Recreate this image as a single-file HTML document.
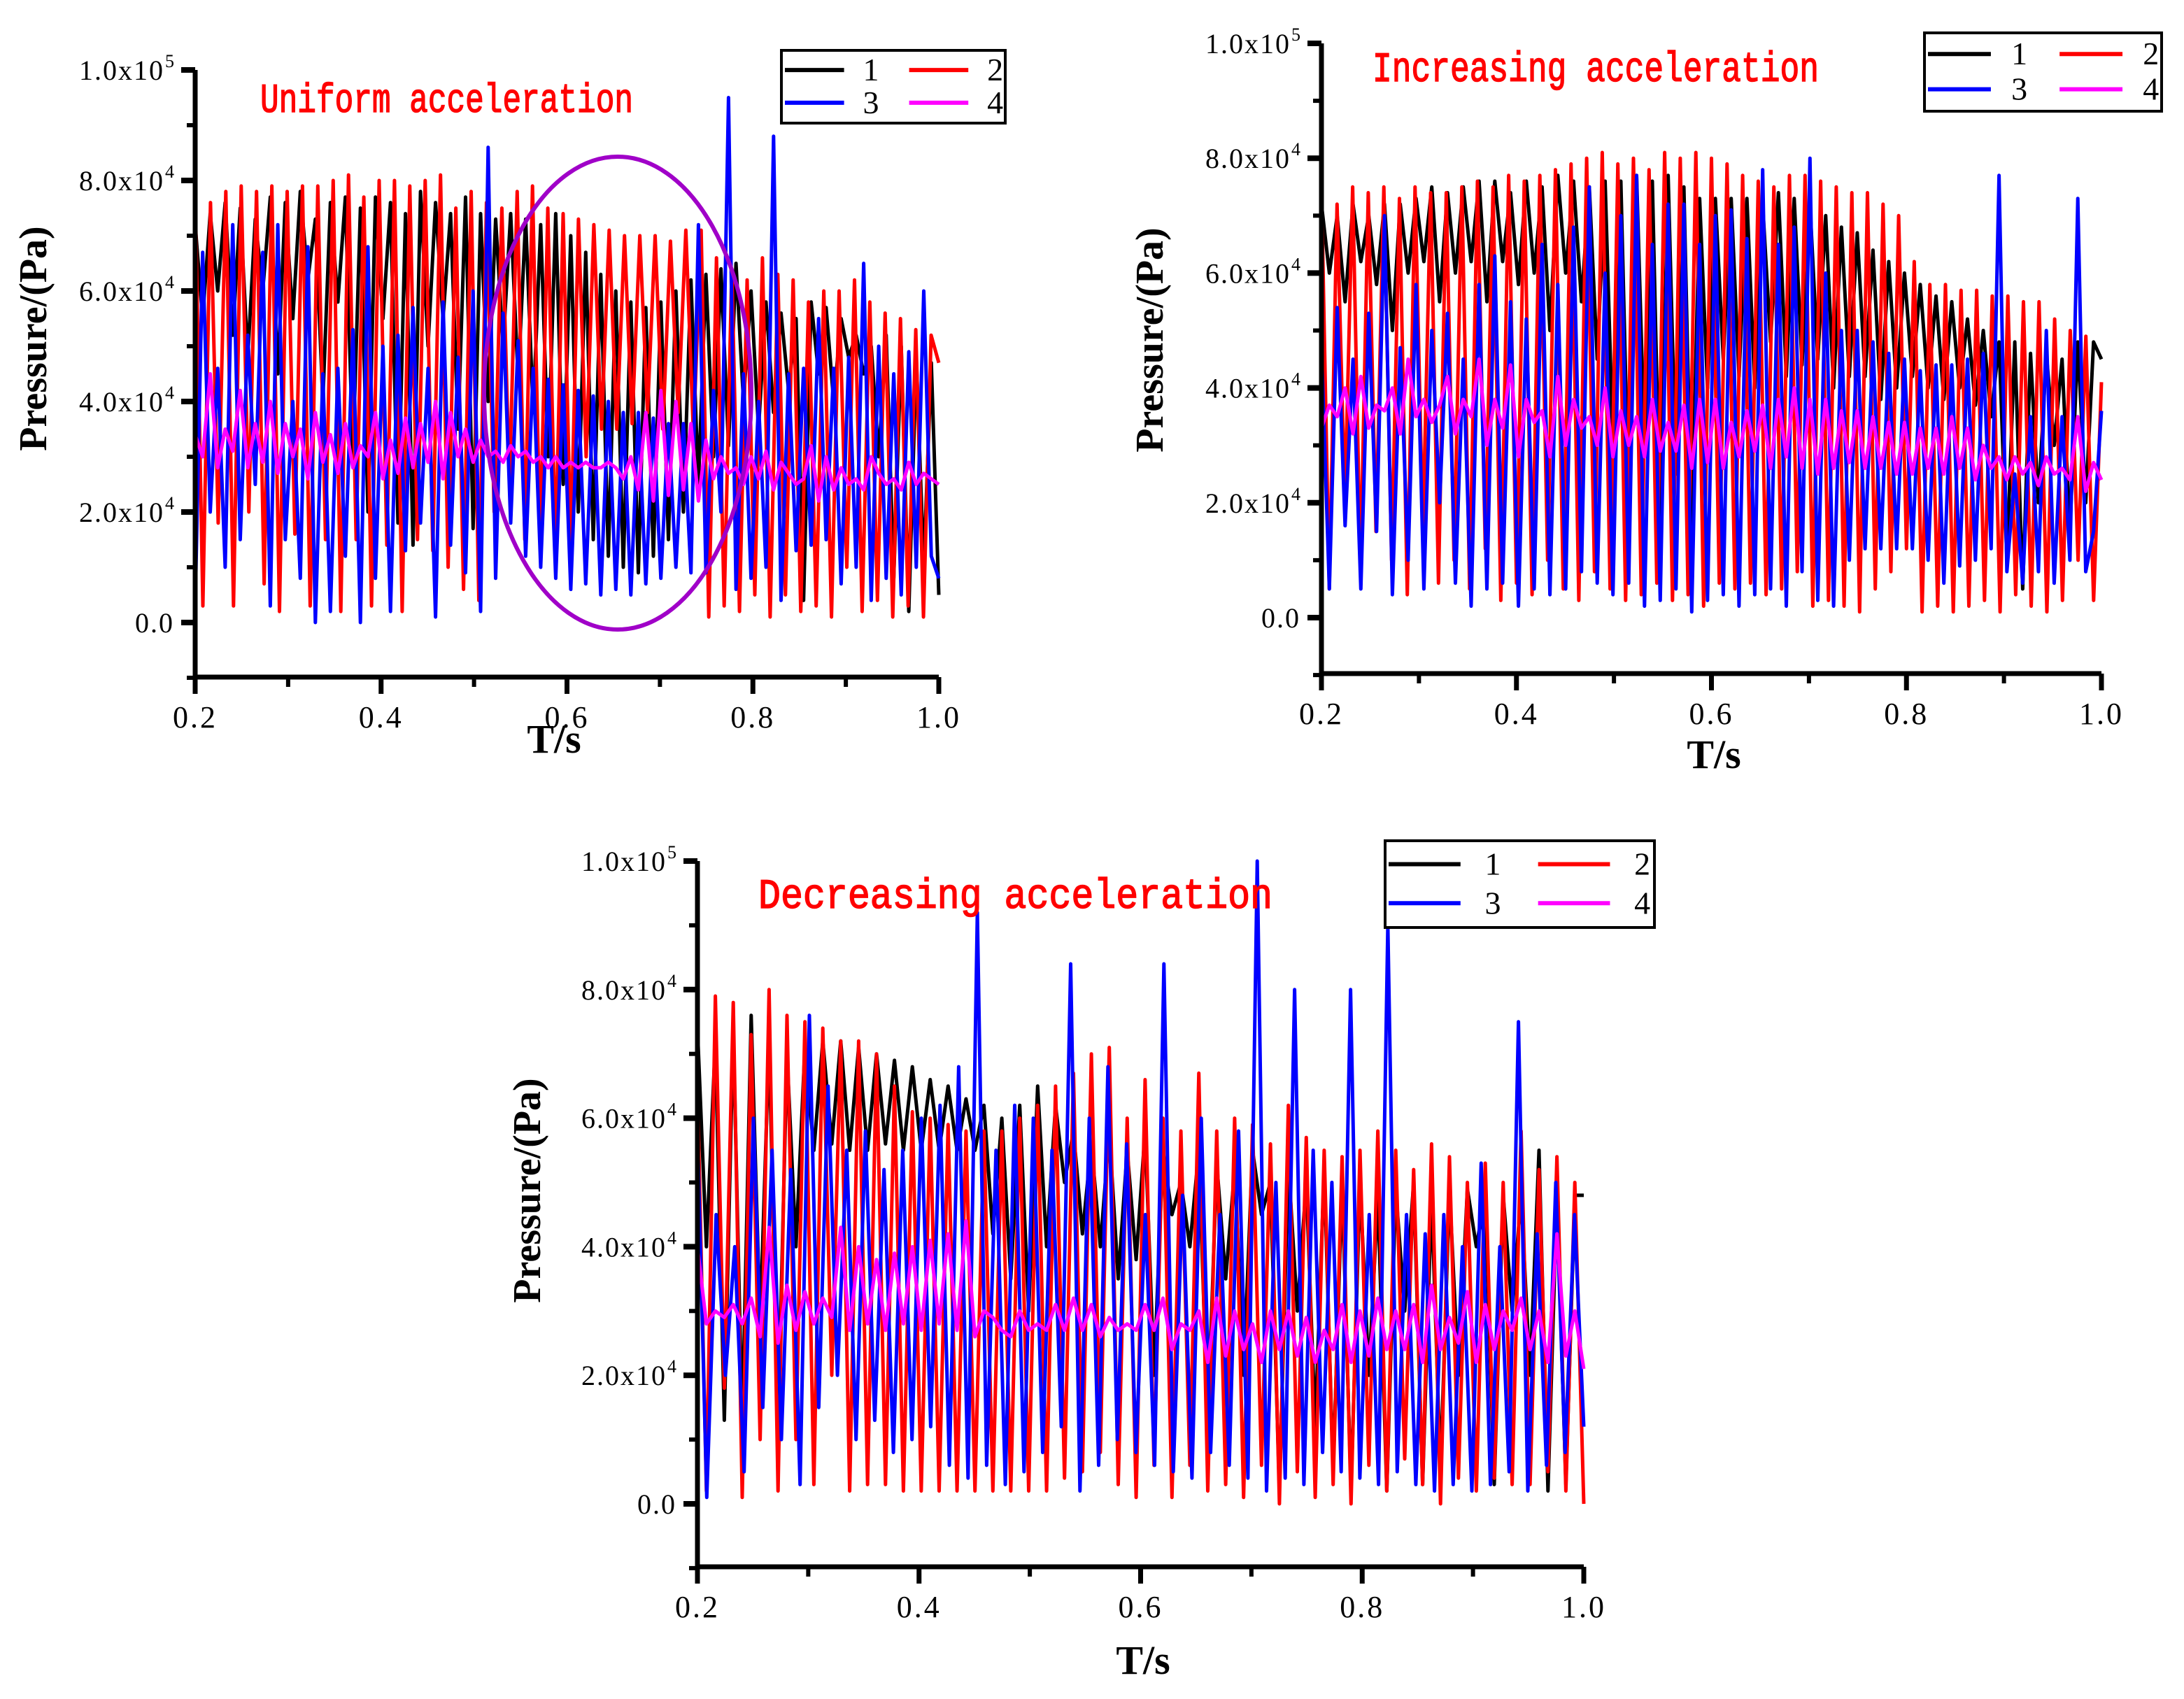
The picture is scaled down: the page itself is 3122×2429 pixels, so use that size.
<!DOCTYPE html>
<html><head><meta charset="utf-8"><style>
html,body{margin:0;padding:0;background:#fff;}
svg{display:block;}
</style></head><body>
<svg id="fig" xmlns="http://www.w3.org/2000/svg" width="3122" height="2429" viewBox="0 0 3122 2429">
<rect width="3122" height="2429" fill="#fff"/>
</svg>
<script>
// Values in kPa; alternating peak/trough samples evenly spread from t=0.2 to t=1.0
const seriesNames = ['1','2','3','4'];
const seriesColors = ['#000000','#ff0000','#0000ff','#ff00ff'];
const xTicks = [0.2,0.4,0.6,0.8,1.0];
const xTickLabels = ['0.2','0.4','0.6','0.8','1.0'];
const yTicks = [0,20000,40000,60000,80000,100000];
const yTickMant = ['0.0','2.0x10','4.0x10','6.0x10','8.0x10','1.0x10'];
const yTickExp = ['','4','4','4','4','5'];

const uniS1 = [72,55,74,60,76,52,75,48,73,60,77,45,76,55,78,62,73,40,76,58,77,30,75,20,77,55,76,18,74,14,78,50,76,55,74,35,77,17,74,40,73,50,74,44,73,38,72,30,74,25,70,20,67,15,63,12,60,10,58,9,57,12,58,15,60,20,62,25,63,30,64,32,65,40,60,35,58,38,56,42,55,4,58,45,57,40,55,48,52,45,50,30,52,8,50,2,48,10,47,5];
const uniS2 = [78,3,76,18,78,3,79,20,78,7,79,2,78,16,79,3,79,15,80,2,81,15,77,3,80,14,80,2,79,15,80,13,81,10,75,6,78,4,76,20,75,25,78,15,79,14,75,12,74,13,73,30,72,35,71,35,70,36,70,38,70,35,69,38,71,34,71,1,66,3,64,2,62,5,66,1,63,5,62,2,58,3,60,1,60,10,62,2,58,4,56,1,55,3,53,1,52,47];
const uniS3 = [3,67,20,46,10,72,15,52,25,67,3,72,15,40,8,68,0,45,2,46,12,53,0,68,8,50,2,52,13,57,18,46,1,58,14,48,9,60,2,86,8,56,18,51,12,46,10,44,8,43,6,42,7,41,5,40,6,38,5,38,7,37,8,36,10,36,9,72,9,42,20,95,6,45,8,40,10,88,4,45,13,46,14,55,15,46,7,48,10,65,4,50,8,45,5,49,10,60,12,8];
const uniS4 = [34,30,45,28,35,31,42,28,36,29,40,27,36,30,35,26,38,29,34,27,36,28,32,30,38,26,33,27,37,28,36,29,40,26,38,30,35,29,33,30,31,29,32,30,31,29,30,28,30,28,29,28,29,28,28,29,28,26,30,24,38,22,42,23,40,24,36,22,33,26,30,27,28,25,30,26,31,24,29,27,25,26,32,22,30,24,28,25,26,24,30,27,25,26,24,29,25,27,26,25];

const incS1 = [72,60,70,55,72,62,70,58,72,50,72,60,73,62,75,55,74,60,75,62,76,55,76,62,74,58,76,60,75,50,77,60,76,55,75,45,76,30,76,20,77,30,76,15,77,25,75,14,73,40,73,45,73,42,73,40,72,48,74,42,73,44,72,45,70,40,68,42,67,42,64,38,62,40,60,42,58,40,56,38,55,40,52,37,50,35,48,10,48,5,46,20,46,30,45,15,48,20,48,45];
const incS2 = [75,5,72,20,75,8,74,15,75,10,73,4,75,15,74,6,74,10,75,5,76,12,75,3,77,6,76,4,77,10,78,5,79,3,80,8,81,5,79,3,80,4,78,6,81,3,80,4,81,2,80,6,79,5,77,6,76,4,75,5,77,8,77,2,76,3,75,2,74,1,74,5,72,8,70,12,62,1,58,2,58,1,57,2,57,3,56,1,56,4,55,2,55,1,52,3,50,10,49,3,41];
const incS3 = [47,5,54,16,45,5,53,15,70,4,47,10,58,5,50,20,53,6,45,2,58,5,63,6,55,2,52,5,65,4,58,5,68,8,75,6,60,4,70,6,77,2,65,3,72,5,72,1,65,3,70,4,71,2,66,4,78,5,65,2,68,8,80,3,60,2,50,10,50,12,48,12,46,12,45,12,43,10,44,6,44,9,45,10,46,12,77,8,25,6,35,8,50,6,35,10,73,8,15,36];
const incS4 = [33,37,35,40,32,42,33,37,36,40,32,45,35,38,34,37,42,32,38,35,45,30,38,33,44,28,38,34,36,28,42,30,38,33,35,30,40,28,36,30,35,28,38,29,34,29,37,26,38,27,38,26,34,28,36,29,37,26,38,28,40,26,38,25,38,26,36,27,36,26,35,26,34,25,34,25,33,26,33,25,35,26,33,24,30,26,28,24,28,25,27,23,28,25,26,24,35,22,27,24];

const decS1 = [74,40,72,13,74,12,76,28,72,12,70,40,71,55,72,56,72,55,71,55,70,56,69,55,68,55,66,55,65,55,63,55,62,42,60,35,62,30,65,40,62,50,58,42,56,40,58,35,55,38,58,20,55,45,50,40,55,12,53,35,52,20,55,45,50,2,53,30,50,12,52,5,50,2,50,20,48,2,49,30,50,3,48,5,49,20,49,40,48,3,48,30,48,20,55,2,48,3,48,48];
const decS2 = [65,2,79,18,78,1,73,10,80,2,76,10,75,3,74,20,72,2,72,3,70,3,65,2,61,2,60,2,59,2,58,2,58,2,58,2,60,2,62,2,65,4,67,5,70,8,71,3,60,1,66,6,60,1,58,6,67,2,58,3,60,1,59,6,56,0,62,5,57,1,55,3,54,0,55,6,58,2,55,7,52,3,56,0,54,4,50,2,53,4,50,3,58,3,52,5,54,2,50,0];
const decS3 = [58,1,45,20,40,5,60,15,55,10,52,3,76,15,65,20,55,10,58,13,52,8,55,10,60,12,62,6,68,4,92,6,55,3,62,5,60,8,55,12,84,2,60,6,68,10,56,8,45,6,84,5,48,4,60,8,45,6,58,4,100,2,50,4,80,3,55,8,50,5,80,4,45,3,90,5,45,3,42,2,45,3,40,2,53,3,40,5,75,2,42,6,50,8,45,12];
const decS4 = [40,28,30,29,31,28,32,26,43,25,34,27,33,28,32,29,43,27,40,28,38,27,39,28,40,27,41,28,42,27,44,26,30,29,27,26,30,27,28,27,31,27,32,27,31,26,29,27,28,27,31,27,32,24,28,27,30,22,32,23,30,24,28,22,30,24,30,23,29,22,27,24,31,22,30,23,32,24,30,24,31,22,34,24,29,25,33,22,31,24,30,27,32,24,30,22,42,23,30,21];

const NS='http://www.w3.org/2000/svg';
const svg=document.getElementById('fig');
function mk(tag,attrs,parent){const e=document.createElementNS(NS,tag);for(const k in attrs)e.setAttribute(k,attrs[k]);(parent||svg).appendChild(e);return e;}

function drawChart(cfg){
  const g=mk('g',{});
  
  
  const sx=t=>cfg.x0+(t-0.2)/(1.0-0.2)*(cfg.x1-cfg.x0);
  const sy=p=>cfg.y0-(p/100000)*(cfg.y0-cfg.y100);
  cfg.data.forEach((arr,si)=>{
    let d='';
    arr.forEach((v,i)=>{const t=0.2+0.8*i/(arr.length-1);d+=(i?'L':'M')+sx(t).toFixed(1)+','+sy(v*1000).toFixed(1);});
    const p=mk('path',{d:d,fill:'none',stroke:seriesColors[si],'stroke-width':5,'stroke-linejoin':'round'},g);
    
    
  });
  if(cfg.ellipse){
    const el=mk('ellipse',{cx:cfg.ellipse[0],cy:cfg.ellipse[1],rx:cfg.ellipse[2],ry:cfg.ellipse[3],fill:'none',stroke:'#a000c8','stroke-width':6},g);
    
    
  }
  const ax=mk('path',{d:`M${cfg.x0},${cfg.y100}L${cfg.x0},${cfg.ybot}L${cfg.x1},${cfg.ybot}`,fill:'none',stroke:'#000','stroke-width':7},g);
  
  
  for(let v=-10000;v<=100000;v+=10000){
    const y=sy(v);const major=(v%20000===0);
    mk('line',{x1:cfg.x0-(major?20:12),y1:y,x2:cfg.x0,y2:y,stroke:'#000','stroke-width':major?8:6},g);
  }
  yTicks.forEach((v,i)=>{
    const t=mk('text',{x:cfg.x0-30-(yTickExp[i]?14:0),y:sy(v)+14,'text-anchor':'end','font-family':'Liberation Serif, serif','font-size':40,'letter-spacing':2},g);
    t.textContent=yTickMant[i];
    
    
    if(yTickExp[i]){const s=mk('text',{x:cfg.x0-30,y:sy(v)-4,'text-anchor':'end','font-family':'Liberation Serif, serif','font-size':26},g);s.textContent=yTickExp[i];
      
      }
  });
  for(let k=0;k<=8;k++){
    const x=sx(0.2+k*0.1);const major=k%2===0;
    mk('line',{x1:x,y1:cfg.ybot,x2:x,y2:cfg.ybot+(major?24:14),stroke:'#000','stroke-width':major?7:6},g);
  }
  xTicks.forEach((v,i)=>{
    const t=mk('text',{x:sx(v),y:cfg.ybot+72,'text-anchor':'middle','font-family':'Liberation Serif, serif','font-size':44,'letter-spacing':3},g);
    t.textContent=xTickLabels[i];
    
    
  });
  const xt=mk('text',{x:cfg.xtitle[0],y:cfg.xtitle[1],'text-anchor':'middle','font-family':'Liberation Serif, serif','font-weight':'bold','font-size':58},g);
  xt.textContent='T/s';
  
  
  const yt=mk('text',{x:0,y:0,'text-anchor':'middle','font-family':'Liberation Serif, serif','font-weight':'bold','font-size':56,transform:`translate(${cfg.ytitle[0]},${cfg.ytitle[1]}) rotate(-90)`},g);
  yt.textContent='Pressure/(Pa)';
  
  
  const tt=mk('text',{x:cfg.title[0],y:cfg.title[1],'font-family':'Liberation Mono, monospace','font-size':cfg.title[3],fill:'#ff0000',stroke:'#ff0000','stroke-width':1.5,textLength:cfg.title[2],lengthAdjust:'spacingAndGlyphs'},g);
  tt.textContent=cfg.titleText;
  
  
  const [lx,ly,lw,lh]=cfg.legend;
  const lg=mk('g',{},g);
  
  
  mk('rect',{x:lx,y:ly,width:lw,height:lh,fill:'#fff',stroke:'#000','stroke-width':4},lg);
  seriesNames.forEach((n,i)=>{
    const col=i%2,row=Math.floor(i/2);
    const bx=lx+col*lw*0.555, by=ly+lh*(row?0.72:0.27);
    const e=mk('g',{},lg);
    
    
    mk('line',{x1:bx+5,y1:by,x2:bx+lw*0.28,y2:by,stroke:seriesColors[i],'stroke-width':6},e);
    const t=mk('text',{x:bx+lw*0.4,y:by+15,'text-anchor':'middle','font-family':'Liberation Serif, serif','font-size':46},e);
    t.textContent=n;
  });
}

drawChart({name:'chart-uniform',x0:279,x1:1342,y0:890,y100:100,ybot:968,
  data:[uniS1,uniS2,uniS3,uniS4],ellipse:[883,562,191,338],
  xtitle:[792,1076],ytitle:[66,484],title:[372,160,533,58],titleText:'Uniform acceleration',legend:[1117,72,320,104]});
drawChart({name:'chart-increasing',x0:1889,x1:3004,y0:883,y100:62,ybot:963,
  data:[incS1,incS2,incS3,incS4],
  xtitle:[2450,1098],ytitle:[1662,486],title:[1962,116,638,60],titleText:'Increasing acceleration',legend:[2751,47,339,112]});
drawChart({name:'chart-decreasing',x0:997,x1:2264,y0:2150,y100:1231,ybot:2240,
  data:[decS1,decS2,decS3,decS4],
  xtitle:[1634,2393],ytitle:[772,1702],title:[1084,1298,735,60],titleText:'Decreasing acceleration',legend:[1980,1202,385,124]});
</script>
</body></html>
